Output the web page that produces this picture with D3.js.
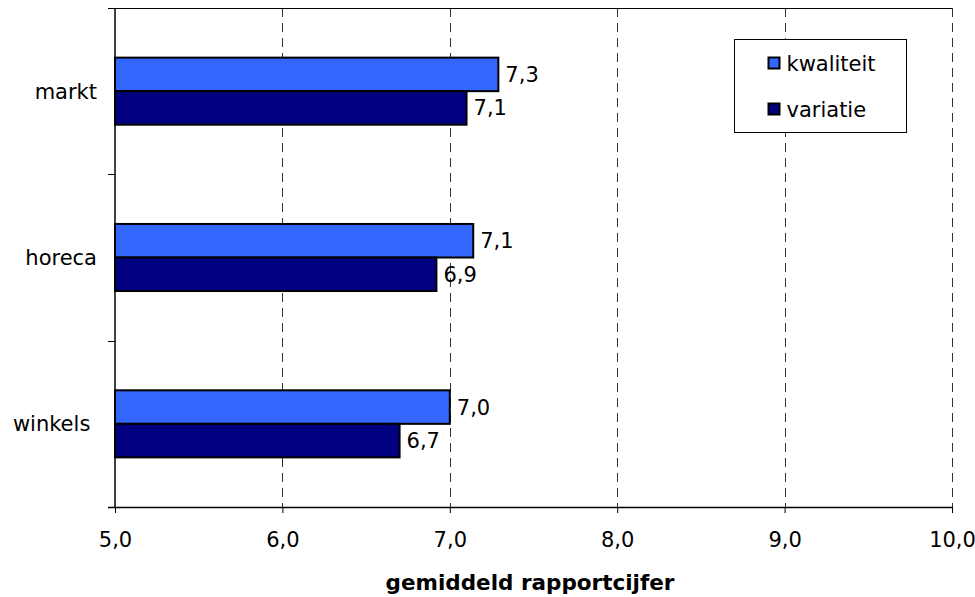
<!DOCTYPE html>
<html>
<head>
<meta charset="utf-8">
<script src="https://cdn.jsdelivr.net/npm/d3@7"></script>
<style>
  body { margin: 0; background: #fff; }
  text { font-family: Verdana, "DejaVu Sans", sans-serif; fill: #000; white-space: pre; }
</style>
</head>
<body>
<svg id="chart"></svg>
<script>
// data
const categories = ["markt", "horeca", "winkels "];
const seriesNames = ["kwaliteit", "variatie"];
const kwaliteit = [7.29, 7.14, 7.00];
const variatie = [7.10, 6.92, 6.70];
const xTicks = [5, 6, 7, 8, 9, 10];
const xTitle = "gemiddeld rapportcijfer";

const width = 975, height = 597;
const margin = { top: 8, right: 23, bottom: 90, left: 115 };
const colors = { kwaliteit: "#3366ff", variatie: "#000080" };
const fontSize = "21px";

const svg = d3.select("#chart")
    .attr("width", width)
    .attr("height", height);

const rows = categories.map((c, i) => ({
    cat: c,
    vals: [
        { key: "kwaliteit", val: kwaliteit[i] },
        { key: "variatie", val: variatie[i] }
    ]
}));

const x = d3.scaleLinear()
    .domain([5, 10])
    .range([margin.left, width - margin.right]);

const y0 = d3.scaleBand()
    .domain(categories)
    .range([margin.top, height - margin.bottom]);

const y1 = d3.scaleBand()
    .domain(seriesNames)
    .range([0, y0.bandwidth()])
    .paddingInner(0)
    .paddingOuter(1.48);

const fmt = v => d3.format(".1f")(v).replace(".", ",");

// dashed gridlines
svg.append("g")
    .selectAll("line")
    .data(xTicks.slice(1))
    .enter().append("line")
    .attr("x1", d => Math.round(x(d)) + 0.5)
    .attr("x2", d => Math.round(x(d)) + 0.5)
    .attr("y1", margin.top)
    .attr("y2", height - margin.bottom)
    .attr("stroke", "#333")
    .attr("stroke-dasharray", "9,6");

// top border
svg.append("line")
    .attr("x1", margin.left - 7).attr("x2", x(10))
    .attr("y1", margin.top + 0.5).attr("y2", margin.top + 0.5)
    .attr("stroke", "#000");

// bars
const groups = svg.append("g")
    .selectAll("g")
    .data(rows)
    .enter().append("g")
    .attr("transform", d => `translate(0,${y0(d.cat)})`);

groups.selectAll("rect")
    .data(d => d.vals)
    .enter().append("rect")
    .attr("x", x(5))
    .attr("y", d => y1(d.key))
    .attr("width", d => x(d.val) - x(5))
    .attr("height", y1.bandwidth())
    .attr("fill", d => colors[d.key])
    .attr("stroke", "#000")
    .attr("stroke-width", 2);

groups.selectAll("text")
    .data(d => d.vals)
    .enter().append("text")
    .attr("x", d => x(d.val) + 7)
    .attr("y", d => y1(d.key) + y1.bandwidth() / 2)
    .attr("dy", "0.36em")
    .attr("font-size", fontSize)
    .text(d => fmt(d.val));

// x axis
const xAxis = svg.append("g")
    .attr("transform", `translate(0,${height - margin.bottom})`)
    .call(d3.axisBottom(x).tickValues(xTicks).tickSize(6).tickPadding(19).tickFormat(fmt));
xAxis.select(".domain").attr("d", `M${margin.left - 7},0.5H${x(10)}`).attr("stroke", "#000").attr("stroke-width", 1.5);
xAxis.selectAll("text").attr("font-size", fontSize).attr("font-family", "Verdana, 'DejaVu Sans', sans-serif");

// y axis
const yAxis = svg.append("g")
    .attr("transform", `translate(${margin.left},0)`);
yAxis.append("line")
    .attr("x1", 0).attr("x2", 0)
    .attr("y1", margin.top).attr("y2", height - margin.bottom)
    .attr("stroke", "#000").attr("stroke-width", 1.5);
yAxis.selectAll(".tick")
    .data(categories.slice(1))
    .enter().append("line")
    .attr("x1", -7).attr("x2", 0)
    .attr("y1", d => Math.round(y0(d)) + 0.5)
    .attr("y2", d => Math.round(y0(d)) + 0.5)
    .attr("stroke", "#000");
yAxis.selectAll("text")
    .data(categories)
    .enter().append("text")
    .attr("x", -18)
    .attr("y", d => y0(d) + y0.bandwidth() / 2)
    .attr("dy", "0.36em")
    .attr("text-anchor", "end")
    .attr("font-size", fontSize)
    .text(d => d);

// axis title
svg.append("text")
    .attr("x", 530)
    .attr("y", 590)
    .attr("text-anchor", "middle")
    .attr("font-size", "21.5px")
    .attr("font-weight", "bold")
    .text(xTitle);

// legend
const legend = svg.append("g")
    .attr("transform", "translate(734.5,39.5)");
legend.append("rect")
    .attr("width", 172).attr("height", 93)
    .attr("fill", "#fff")
    .attr("stroke", "#000");
const items = legend.selectAll(".item")
    .data(seriesNames)
    .enter().append("g")
    .attr("class", "item")
    .attr("transform", (d, i) => `translate(34,${18 + i * 46})`);
items.append("rect")
    .attr("width", 11).attr("height", 11)
    .attr("fill", d => colors[d])
    .attr("stroke", "#000")
    .attr("stroke-width", 2);
items.append("text")
    .attr("x", 18)
    .attr("y", 6)
    .attr("dy", "0.36em")
    .attr("font-size", fontSize)
    .text(d => d);
</script>
</body>
</html>
